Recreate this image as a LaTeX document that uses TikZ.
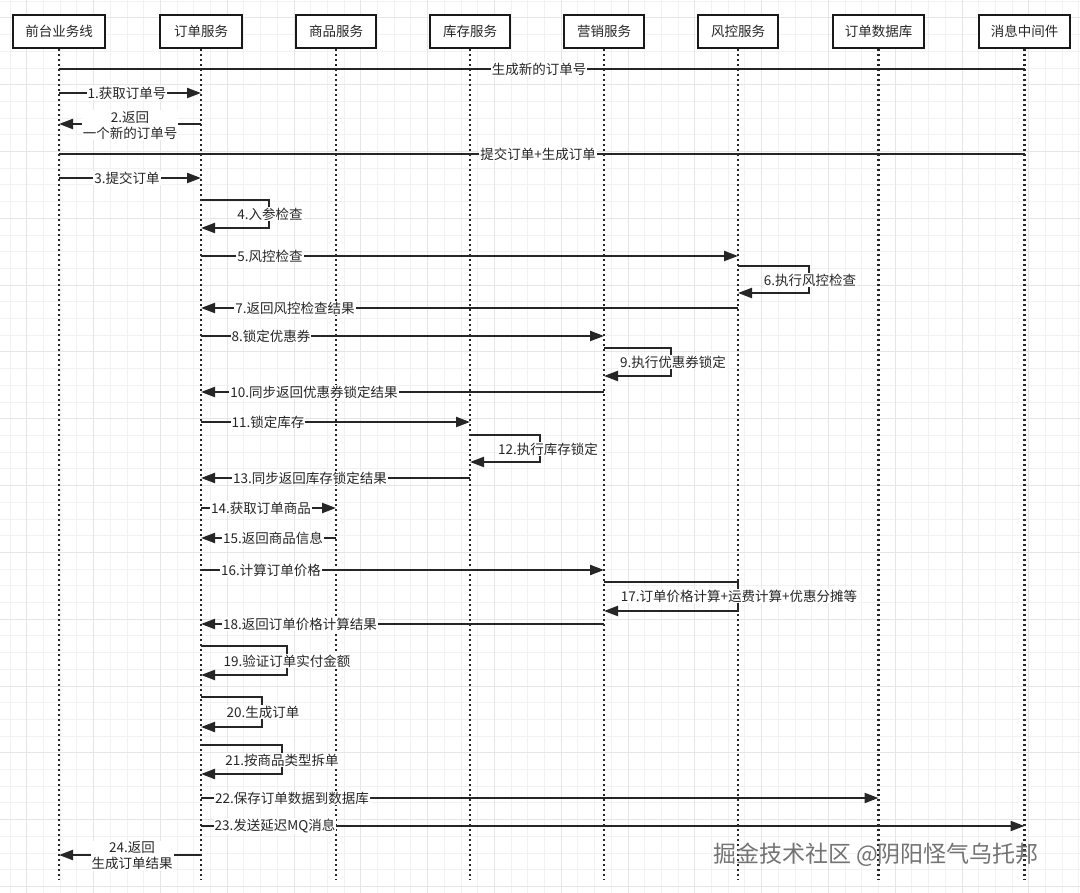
\documentclass[tikz,border=0pt]{standalone}
\usepackage{fontspec}
\setmainfont{Noto Sans CJK SC}
\usetikzlibrary{arrows.meta}
\definecolor{ink}{HTML}{262626}
\definecolor{gminor}{HTML}{F2F2F2}
\definecolor{gmajor}{HTML}{E6E6E6}
\newcommand\myloop[4]{\draw[msg] (#1 |- 0,#2) -- (#3,#2) -- (#3,#4) -- (#1 |- 0,#4);}
\begin{document}
\begin{tikzpicture}[x=1pt,y=-1pt,
  hdr/.style={draw=black!90, line width=2.4pt, fill=white, minimum height=33pt,
    font=\fontsize{13.5}{16}\selectfont, text=black!85, inner sep=0pt},
  life/.style={line width=2.4pt, dash pattern=on 2.2pt off 2.8pt, draw=ink},
  msg/.style={line width=2.2pt, draw=ink, line join=miter, -{Triangle[length=14pt,width=10pt]}},
  plainmsg/.style={line width=2.2pt, draw=ink},
  lbl/.style={fill=white, inner sep=1pt, font=\fontsize{13.5}{16}\selectfont, text=ink, align=center},
  minorg/.style={draw=gminor, line width=1pt},
  majorg/.style={draw=gmajor, line width=1pt}]
\useasboundingbox (0,0) rectangle (1080,893);
\fill[white] (0,0) rectangle (1080,893);
% grid
\foreach \i in {0,...,64} {\draw[minorg] ({10.1+\i*16.7},0) -- ({10.1+\i*16.7},893);}
\foreach \i in {0,...,53} {\draw[minorg] (0,{1.3+\i*16.7}) -- (1080,{1.3+\i*16.7});}
\foreach \i in {0,...,16} {\draw[majorg] ({26.8+\i*66.8},0) -- ({26.8+\i*66.8},893);}
\foreach \i in {0,...,13} {\draw[majorg] (0,{18+\i*66.8}) -- (1080,{18+\i*66.8});}

% headers
\node[hdr, minimum width=92pt] (h1) at (59,31.5) {前台业务线};
\node[hdr, minimum width=82pt] (h2) at (201,31.5) {订单服务};
\node[hdr, minimum width=80pt] (h3) at (336,31.5) {商品服务};
\node[hdr, minimum width=80pt] (h4) at (470,31.5) {库存服务};
\node[hdr, minimum width=80pt] (h5) at (604,31.5) {营销服务};
\node[hdr, minimum width=80pt] (h6) at (738,31.5) {风控服务};
\node[hdr, minimum width=91pt] (h7) at (878.5,31.5) {订单数据库};
\node[hdr, minimum width=91pt] (h8) at (1024.5,31.5) {消息中间件};

% lifeline ends
\foreach \n in {1,...,8} {\coordinate (e\n) at (h\n |- 0,880);}
\foreach \n in {1,...,8} {\draw[life] (h\n.south) -- (e\n);}

% messages
\draw[plainmsg] (h1 |- 0,69) -- (h8 |- 0,69);
\draw[msg] (h1 |- 0,93) -- (h2 |- 0,93);
\draw[msg] (h2 |- 0,124) -- (h1 |- 0,124);
\draw[plainmsg] (h1 |- 0,154) -- (h8 |- 0,154);
\draw[msg] (h1 |- 0,178) -- (h2 |- 0,178);
\myloop{h2}{200}{269}{228}
\draw[msg] (h2 |- 0,256) -- (h6 |- 0,256);
\myloop{h6}{266}{809}{293}
\draw[msg] (h6 |- 0,308) -- (h2 |- 0,308);
\draw[msg] (h2 |- 0,336) -- (h5 |- 0,336);
\myloop{h5}{348}{671}{376}
\draw[msg] (h5 |- 0,392) -- (h2 |- 0,392);
\draw[msg] (h2 |- 0,422) -- (h4 |- 0,422);
\myloop{h4}{435}{540}{462}
\draw[msg] (h4 |- 0,478) -- (h2 |- 0,478);
\draw[msg] (h2 |- 0,508) -- (h3 |- 0,508);
\draw[msg] (h3 |- 0,538) -- (h2 |- 0,538);
\draw[msg] (h2 |- 0,570) -- (h5 |- 0,570);
\draw[msg] (h5 |- 0,582) -- (h6 |- 0,582) -- (h6 |- 0,611) -- (h5 |- 0,611);
\draw[msg] (h5 |- 0,624) -- (h2 |- 0,624);
\myloop{h2}{646}{287}{675}
\myloop{h2}{697}{262}{727}
\myloop{h2}{745}{282}{774}
\draw[msg] (h2 |- 0,798) -- (h7 |- 0,798);
\draw[msg] (h2 |- 0,826) -- (h8 |- 0,826);
\draw[msg] (h2 |- 0,855) -- (h1 |- 0,855);

% labels
\node[lbl] (m0) at (539,69) {生成新的订单号};
\node[lbl] (m1) at (127,93) {1.获取订单号};
\node[lbl] (m2) at (130,125) {2.返回\\一个新的订单号};
\node[lbl] (m2b) at (538,154) {提交订单+生成订单};
\node[lbl] (m3) at (127,178) {3.提交订单};
\node[lbl] (m4) at (270,214) {4.入参检查};
\node[lbl] (m5) at (270,256) {5.风控检查};
\node[lbl] (m6) at (810,280) {6.执行风控检查};
\node[lbl] (m7) at (295,308) {7.返回风控检查结果};
\node[lbl] (m8) at (271,336) {8.锁定优惠券};
\node[lbl] (m9) at (673,362) {9.执行优惠券锁定};
\node[lbl] (m10) at (314,392) {10.同步返回优惠券锁定结果};
\node[lbl] (m11) at (268,422) {11.锁定库存};
\node[lbl] (m12) at (548,449) {12.执行库存锁定};
\node[lbl] (m13) at (310,478) {13.同步返回库存锁定结果};
\node[lbl] (m14) at (261,508) {14.获取订单商品};
\node[lbl] (m15) at (273,538) {15.返回商品信息};
\node[lbl] (m16) at (271,570) {16.计算订单价格};
\node[lbl] (m17) at (739,596) {17.订单价格计算+运费计算+优惠分摊等};
\node[lbl] (m18) at (300,624) {18.返回订单价格计算结果};
\node[lbl] (m19) at (287,661) {19.验证订单实付金额};
\node[lbl] (m20) at (263,712) {20.生成订单};
\node[lbl] (m21) at (282,760) {21.按商品类型拆单};
\node[lbl] (m22) at (292,798) {22.保存订单数据到数据库};
\node[lbl] (m23) at (275,826) {23.发送延迟MQ消息};
\node[lbl] (m24) at (132,856) {24.返回\\生成订单结果};

% watermark
\node[font=\fontsize{23}{26}\selectfont, text=black!55, inner sep=0pt] (wm) at (876,855) {掘金技术社区 @阴阳怪气乌托邦};
\end{tikzpicture}
\end{document}
